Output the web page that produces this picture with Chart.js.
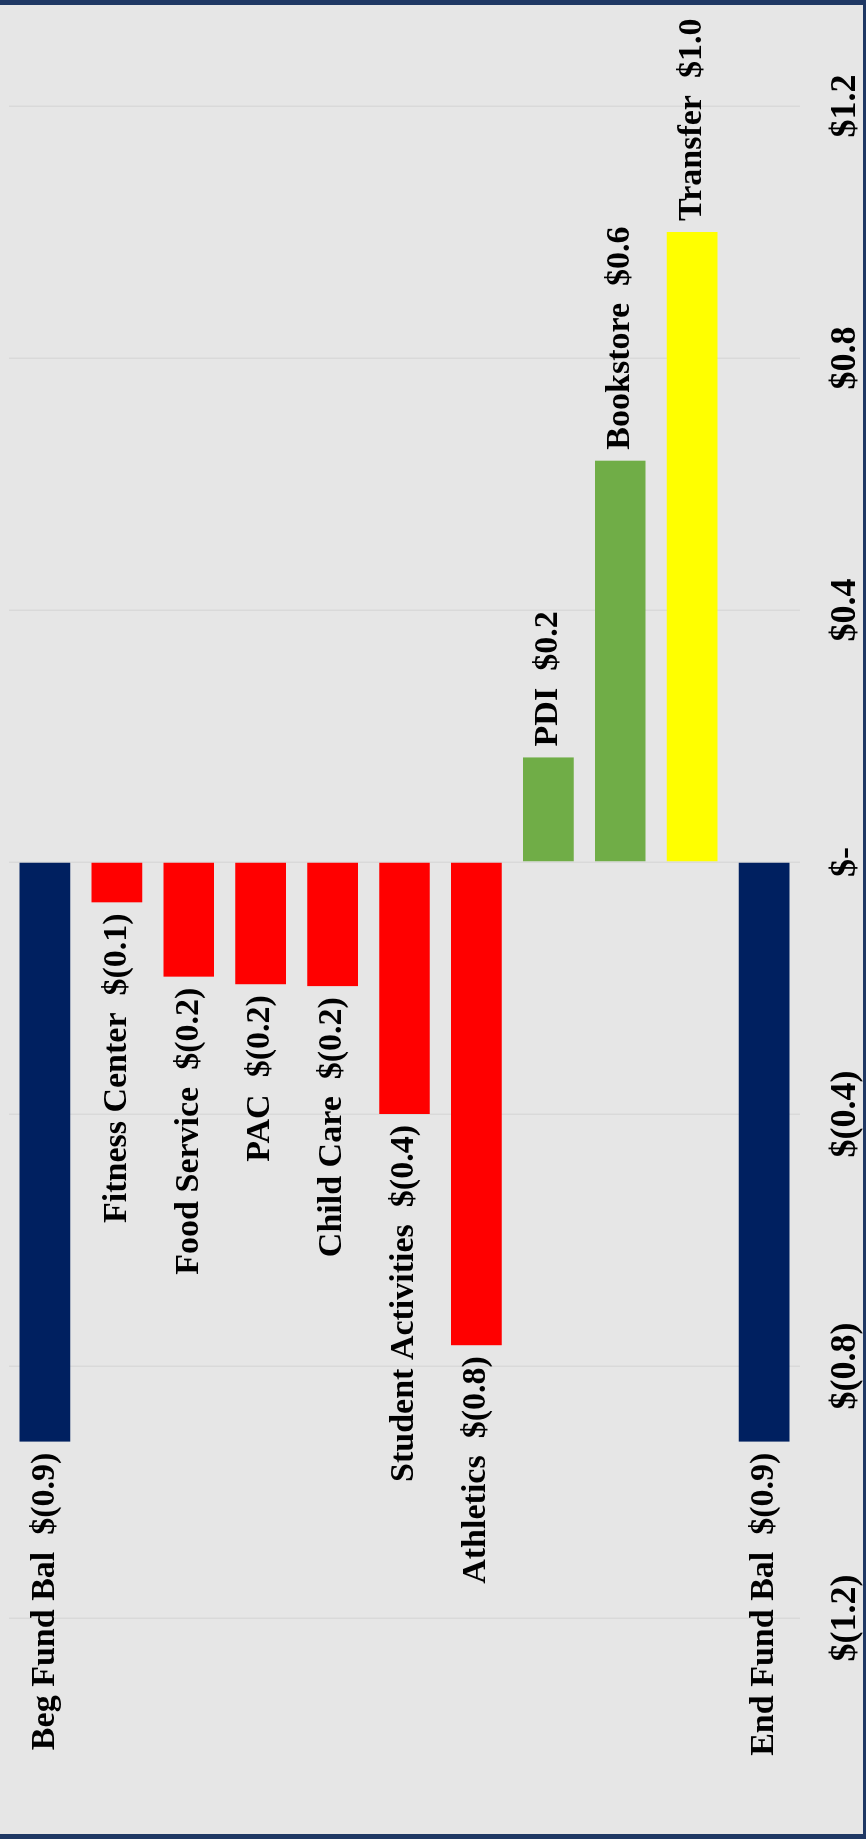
<!DOCTYPE html>
<html>
<head>
    <title>Auxiliary Funds - Net Change</title>
    <script src="https://cdn.jsdelivr.net/npm/chart.js"></script>
    <style>
        html, body {
            margin: 0;
            padding: 0;
            background: #e6e6e6;
            overflow: hidden;
        }
        .page {
            position: relative;
            width: 866px;
            height: 1839px;
            overflow: hidden;
            background: #e6e6e6;
        }
        /* chart is laid out landscape, then turned a quarter turn */
        #fundChart {
            position: absolute;
            left: 0;
            top: 0;
            transform-origin: 0 0;
            transform: translateY(1839px) rotate(-90deg);
        }
        .frame {
            position: absolute;
            inset: 0;
            box-sizing: border-box;
            border-top: 5px solid #1f3864;
            border-right: 3px solid #1f3864;
            border-bottom: 5px solid #1f3864;
            pointer-events: none;
        }
    </style>
</head>
<body>
    <div class="page">
        <canvas id="fundChart" width="1839" height="866"></canvas>
        <div class="frame"></div>
    </div>

    <script>
        // Fund balances and changes, in $ millions
        const categories = ['Beg Fund Bal', 'Fitness Center', 'Food Service', 'PAC', 'Child Care',
            'Student Activities', 'Athletics', 'PDI', 'Bookstore', 'Transfer', 'End Fund Bal'];
        const amounts = [-0.92, -0.064, -0.182, -0.194, -0.197, -0.4, -0.767, 0.166, 0.637, 1.0, -0.92];
        const barColors = ['#002060', '#ff0000', '#ff0000', '#ff0000', '#ff0000',
            '#ff0000', '#ff0000', '#70ad47', '#70ad47', '#ffff00', '#002060'];
        const axisMin = -1.2;
        const axisMax = 1.2;
        const axisStep = 0.4;

        // accounting style: $1.2, $(0.4), $-
        function money(v) {
            const r = Math.round(Math.abs(v) * 10) / 10;
            if (r === 0) return '$-';
            return v < 0 ? '$(' + r.toFixed(1) + ')' : '$' + r.toFixed(1);
        }

        // name + amount written just past the end of each bar
        const barLabels = {
            id: 'barLabels',
            afterDatasetsDraw(chart) {
                const c = chart.ctx;
                const meta = chart.getDatasetMeta(0);
                c.save();
                c.font = 'bold 34px "Liberation Serif"';
                c.fillStyle = '#000';
                c.textBaseline = 'middle';
                meta.data.forEach((bar, i) => {
                    const v = amounts[i];
                    const text = categories[i] + '  ' + money(v);
                    c.textAlign = v < 0 ? 'right' : 'left';
                    c.fillText(text, v < 0 ? bar.x - 11 : bar.x + 11, bar.y);
                });
                c.restore();
            }
        };

        const ctx = document.getElementById('fundChart').getContext('2d');
        new Chart(ctx, {
            type: 'bar',
            data: {
                labels: categories,
                datasets: [{
                    data: amounts,
                    backgroundColor: barColors,
                    barPercentage: 0.705,
                    categoryPercentage: 1
                }]
            },
            options: {
                indexAxis: 'y',
                responsive: false,
                animation: false,
                layout: {
                    padding: { left: 221, right: 106, top: 9, bottom: 0 }
                },
                plugins: {
                    legend: { display: false },
                    tooltip: { enabled: false }
                },
                scales: {
                    x: {
                        min: axisMin,
                        max: axisMax,
                        position: 'bottom',
                        grid: { color: '#d9d9d9', lineWidth: 1.5, drawTicks: false },
                        border: { display: false },
                        ticks: {
                            stepSize: axisStep,
                            padding: 24,
                            color: '#000',
                            maxRotation: 0,
                            autoSkip: false,
                            font: { family: 'Liberation Serif', size: 36, weight: 'bold' },
                            callback: v => money(v)
                        },
                        afterFit(scale) {
                            scale.height = 66;
                        }
                    },
                    y: { display: false }
                }
            },
            plugins: [barLabels]
        });
    </script>
</body>
</html>
